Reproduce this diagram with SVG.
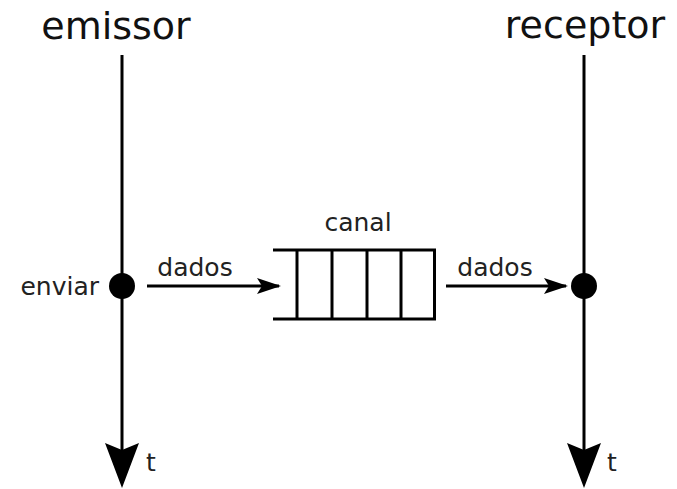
<svg xmlns="http://www.w3.org/2000/svg" width="677" height="489" viewBox="0 0 677 489">
  <style>
    .title { font-family: "DejaVu Sans", sans-serif; font-size: 38px; fill: #111; }
    .label { font-family: "DejaVu Sans", sans-serif; font-size: 25px; fill: #222; }
    .line { stroke: #000; stroke-width: 3; fill: none; }
    .dot { fill: #000; }
  </style>
  <defs>
    <marker id="msg" viewBox="0 0 24 16" refX="22" refY="8" markerWidth="24" markerHeight="16" markerUnits="userSpaceOnUse" orient="auto">
      <path d="M0,0 L24,8 L0,16 L5,8 Z" fill="#000"/>
    </marker>
  </defs>
  <rect width="677" height="489" fill="#fff"/>

  <!-- process timelines -->
  <g id="emissor">
    <text class="title" x="116" y="39" text-anchor="middle">emissor</text>
    <line class="line" x1="122" y1="55" x2="122" y2="450"/>
    <path d="M105,443 L122,450 L139,443 L122,488 Z" fill="#000"/>
    <text class="label" x="146" y="471">t</text>
    <circle class="dot" cx="122" cy="286" r="13"/>
    <text class="label" x="99" y="295" text-anchor="end">enviar</text>
  </g>

  <g id="receptor">
    <text class="title" x="585" y="38" text-anchor="middle">receptor</text>
    <line class="line" x1="584" y1="55" x2="584" y2="450"/>
    <path d="M567,443 L584,450 L601,443 L584,488 Z" fill="#000"/>
    <text class="label" x="607" y="471">t</text>
    <circle class="dot" cx="584" cy="286" r="13"/>
  </g>

  <!-- channel buffer -->
  <g id="canal">
    <text class="label" x="358" y="231" text-anchor="middle">canal</text>
    <line class="line" x1="273" y1="250" x2="436" y2="250"/>
    <line class="line" x1="273" y1="319" x2="436" y2="319"/>
    <line class="line" x1="297" y1="250" x2="297" y2="319"/>
    <line class="line" x1="332" y1="250" x2="332" y2="319"/>
    <line class="line" x1="367" y1="250" x2="367" y2="319"/>
    <line class="line" x1="401" y1="250" x2="401" y2="319"/>
    <line class="line" x1="434.5" y1="250" x2="434.5" y2="319"/>
  </g>

  <!-- messages -->
  <g id="connectors">
    <line class="line" stroke-width="2" x1="147" y1="286" x2="279" y2="286" marker-end="url(#msg)"/>
    <text class="label" x="195" y="276" text-anchor="middle">dados</text>
    <line class="line" stroke-width="2" x1="446" y1="286" x2="566" y2="286" marker-end="url(#msg)"/>
    <text class="label" x="495" y="276" text-anchor="middle">dados</text>
  </g>
</svg>
